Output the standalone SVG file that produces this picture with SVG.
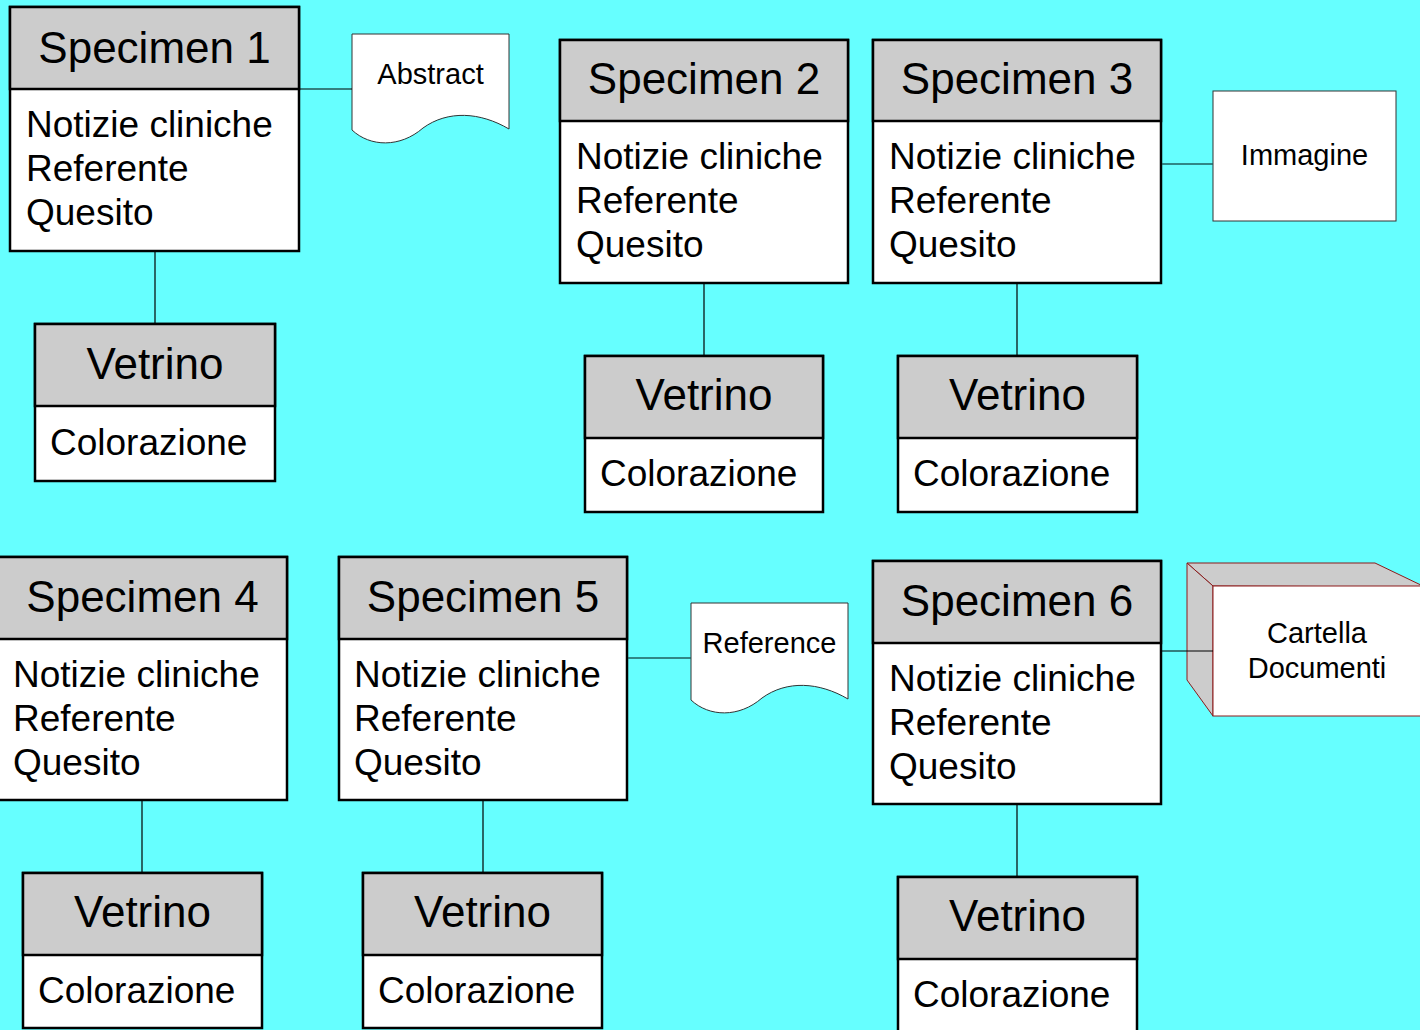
<svg xmlns="http://www.w3.org/2000/svg" width="1420" height="1030" viewBox="0 0 1420 1030">
<style>
.bg{fill:#66ffff}
.hd{fill:#cccccc;stroke:#000;stroke-width:2.5}
.bd{fill:#ffffff;stroke:#000;stroke-width:2.5}
.t{font-family:"Liberation Sans",Arial,sans-serif;fill:#000}
.h{font-size:44px;text-anchor:middle}
.b{font-size:37px}
.s{font-size:29px;text-anchor:middle}
.doc{fill:#fff;stroke:#333;stroke-width:1}
.cube{stroke:#8b1a1a;stroke-width:1}
.c{stroke:#000;stroke-width:1.2;fill:none}
.c2{stroke:#1f5f5f;stroke-width:1.5;fill:none}
</style>
<rect class="bg" x="0" y="0" width="1420" height="1030"/>

<g id="specimen1">
<rect class="bd" x="10" y="7" width="289" height="244"/>
<rect class="hd" x="10" y="7" width="289" height="82"/>
<text class="t h" x="154.5" y="63">Specimen 1</text>
<text class="t b" x="26" y="137">Notizie cliniche</text>
<text class="t b" x="26" y="181">Referente</text>
<text class="t b" x="26" y="225">Quesito</text>
</g>
<g id="vetrino1">
<rect class="bd" x="35" y="324" width="240" height="157"/>
<rect class="hd" x="35" y="324" width="240" height="82"/>
<text class="t h" x="155" y="379">Vetrino</text>
<text class="t b" x="50" y="455">Colorazione</text>
</g>

<g id="specimen2">
<rect class="bd" x="560" y="40" width="288" height="243"/>
<rect class="hd" x="560" y="40" width="288" height="81"/>
<text class="t h" x="704" y="94">Specimen 2</text>
<text class="t b" x="576" y="169">Notizie cliniche</text>
<text class="t b" x="576" y="213">Referente</text>
<text class="t b" x="576" y="257">Quesito</text>
</g>
<g id="vetrino2">
<rect class="bd" x="585" y="356" width="238" height="156"/>
<rect class="hd" x="585" y="356" width="238" height="82"/>
<text class="t h" x="704" y="410">Vetrino</text>
<text class="t b" x="600" y="486">Colorazione</text>
</g>

<g id="specimen3">
<rect class="bd" x="873" y="40" width="288" height="243"/>
<rect class="hd" x="873" y="40" width="288" height="81"/>
<text class="t h" x="1017" y="94">Specimen 3</text>
<text class="t b" x="889" y="169">Notizie cliniche</text>
<text class="t b" x="889" y="213">Referente</text>
<text class="t b" x="889" y="257">Quesito</text>
</g>
<g id="vetrino3">
<rect class="bd" x="898" y="356" width="239" height="156"/>
<rect class="hd" x="898" y="356" width="239" height="82"/>
<text class="t h" x="1017.5" y="410">Vetrino</text>
<text class="t b" x="913" y="486">Colorazione</text>
</g>

<g id="specimen4">
<rect class="bd" x="-2" y="557" width="289" height="243"/>
<rect class="hd" x="-2" y="557" width="289" height="82"/>
<text class="t h" x="142.5" y="612">Specimen 4</text>
<text class="t b" x="13" y="687">Notizie cliniche</text>
<text class="t b" x="13" y="731">Referente</text>
<text class="t b" x="13" y="775">Quesito</text>
</g>
<g id="vetrino4">
<rect class="bd" x="23" y="873" width="239" height="155"/>
<rect class="hd" x="23" y="873" width="239" height="82"/>
<text class="t h" x="142.5" y="927">Vetrino</text>
<text class="t b" x="38" y="1003">Colorazione</text>
</g>

<g id="specimen5">
<rect class="bd" x="339" y="557" width="288" height="243"/>
<rect class="hd" x="339" y="557" width="288" height="82"/>
<text class="t h" x="483" y="612">Specimen 5</text>
<text class="t b" x="354" y="687">Notizie cliniche</text>
<text class="t b" x="354" y="731">Referente</text>
<text class="t b" x="354" y="775">Quesito</text>
</g>
<g id="vetrino5">
<rect class="bd" x="363" y="873" width="239" height="155"/>
<rect class="hd" x="363" y="873" width="239" height="82"/>
<text class="t h" x="482.5" y="927">Vetrino</text>
<text class="t b" x="378" y="1003">Colorazione</text>
</g>

<g id="specimen6">
<rect class="bd" x="873" y="561" width="288" height="243"/>
<rect class="hd" x="873" y="561" width="288" height="82"/>
<text class="t h" x="1017" y="616">Specimen 6</text>
<text class="t b" x="889" y="691">Notizie cliniche</text>
<text class="t b" x="889" y="735">Referente</text>
<text class="t b" x="889" y="779">Quesito</text>
</g>
<g id="vetrino6">
<rect class="bd" x="898" y="877" width="239" height="158"/>
<rect class="hd" x="898" y="877" width="239" height="82"/>
<text class="t h" x="1017.5" y="931">Vetrino</text>
<text class="t b" x="913" y="1007">Colorazione</text>
</g>

<g id="abstract">
<path class="doc" d="M352,34 H509 V129 C480,112 448,110 423,128 C400,148 370,147 352,130 Z"/>
<text class="t s" x="430.5" y="84">Abstract</text>
</g>

<g id="reference">
<path class="doc" d="M691,603 H848 V699 C819,682 787,680 762,698 C739,718 709,717 691,700 Z"/>
<text class="t s" x="769.5" y="653">Reference</text>
</g>

<g id="immagine">
<rect class="doc" x="1213" y="91" width="183" height="130"/>
<text class="t s" x="1304.5" y="165">Immagine</text>
</g>

<g id="cartella">
<polygon class="cube" fill="#cccccc" points="1187,563 1375,563 1425,587 1213,586"/>
<polygon class="cube" fill="#cccccc" points="1187,563 1213,586 1213,716 1187,680"/>
<rect class="cube" fill="#ffffff" x="1213" y="586" width="220" height="130"/>
<text class="t s" x="1317" y="643">Cartella</text>
<text class="t s" x="1317" y="678">Documenti</text>
</g>

<g id="connectors">
<line class="c" x1="155" y1="252" x2="155" y2="324"/>
<line class="c" x1="704" y1="284" x2="704" y2="356"/>
<line class="c" x1="1017" y1="284" x2="1017" y2="356"/>
<line class="c" x1="142" y1="801" x2="142" y2="873"/>
<line class="c" x1="483" y1="801" x2="483" y2="873"/>
<line class="c" x1="1017" y1="805" x2="1017" y2="877"/>
<line class="c" x1="300" y1="89" x2="352" y2="89"/>
<line class="c2" x1="1162" y1="164" x2="1213" y2="164"/>
<line class="c2" x1="628" y1="658" x2="691" y2="658"/>
<line class="c" x1="1162" y1="651" x2="1213" y2="651"/>
</g>
</svg>
